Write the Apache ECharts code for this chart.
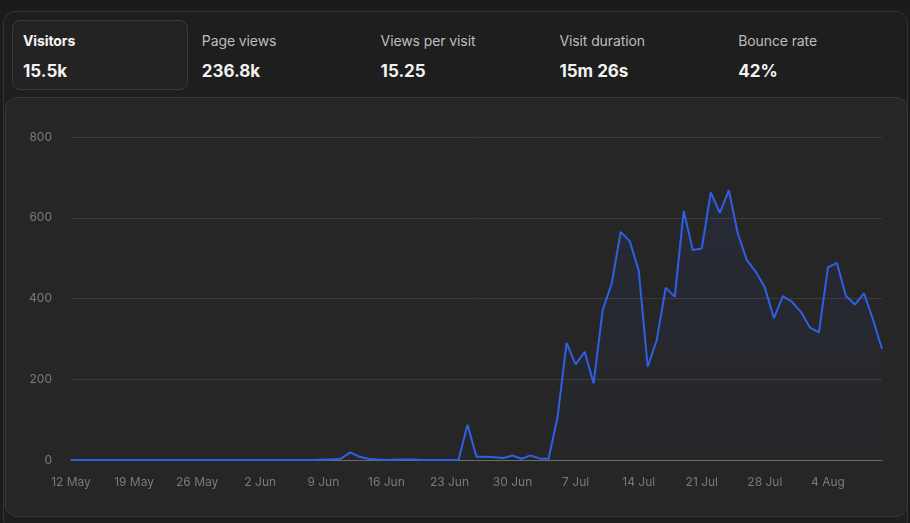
<!DOCTYPE html>
<html>
<head>
<meta charset="utf-8">
<script src="https://cdn.jsdelivr.net/npm/echarts@6/dist/echarts.min.js"></script>
<style>
  html, body { margin:0; padding:0; width:910px; height:523px; background:#1b1b1b; overflow:hidden; font-family: Inter, "Noto Sans", sans-serif; }
  #outer { position:absolute; left:3px; top:11px; width:903px; height:520px; border:1px solid #333; border-radius:12px; background:#1e1e1e; }
  #tab { position:absolute; left:12px; top:20px; width:174px; height:68px; border:1px solid #3a3a3a; border-radius:8px; background:#232323; }
  .stat { position:absolute; top:32px; }
  .stat .lbl { font-size:14px; color:#bdbdbd; line-height:18px; letter-spacing:-0.1px; }
  .stat .val { font-size:17px; font-weight:700; color:#f2f2f2; margin-top:11px; line-height:20px; }
  .stat.sel .lbl { color:#f5f5f5; font-weight:700; }
  #card { position:absolute; left:5px; top:97px; width:901px; height:418px; border:1px solid #383838; border-radius:12px; background:#262626; }
  #chart { position:absolute; left:0; top:0; width:910px; height:523px; }
</style>
</head>
<body>
<div id="outer"></div>
<div id="tab"></div>
<div id="stats"></div>
<div id="card"></div>
<div id="chart"></div>
<script>
// ---- data ----
const statLabels = ["Visitors", "Page views", "Views per visit", "Visit duration", "Bounce rate"];
const statValues = ["15.5k", "236.8k", "15.25", "15m 26s", "42%"];

const startDate = "2024-05-12";
const dayCount = 91;
const monthNames = ["Jan","Feb","Mar","Apr","May","Jun","Jul","Aug","Sep","Oct","Nov","Dec"];

const visitors = [
  0, 0, 0, 0, 0, 0, 0, 0, 0, 0,
  0, 0, 0, 0, 0, 0, 0, 0, 0, 0,
  0, 0, 0, 0, 0, 0, 0, 0, 1, 1,
  4, 19, 8, 3, 1, 0, 1, 1, 1, 0,
  0, 0, 0, 0, 87, 8, 8, 7, 5, 11,
  3, 11, 4, 3, 107, 290, 237, 268, 190, 371,
  437, 565, 542, 470, 231, 297, 427, 404, 617, 520,
  524, 663, 612, 668, 561, 495, 466, 427, 351, 406,
  392, 367, 328, 316, 477, 488, 406, 385, 413, 348,
  275
];
const yTicks = { min: 0, max: 800, interval: 200 };

// ---- categories ----
const categories = [];
{
  const d0 = new Date(startDate + "T00:00:00Z");
  for (let i = 0; i < dayCount; i++) {
    const d = new Date(d0.getTime() + i * 86400000);
    categories.push(d.getUTCDate() + " " + monthNames[d.getUTCMonth()]);
  }
}

// ---- header ----
const stats = document.getElementById("stats");
statLabels.forEach((l, i) => {
  const el = document.createElement("div");
  el.className = "stat" + (i === 0 ? " sel" : "");
  el.style.left = (23 + i * 178.8) + "px";
  el.innerHTML = '<div class="lbl">' + l + '</div><div class="val">' + statValues[i] + '</div>';
  stats.appendChild(el);
});

// ---- chart ----
const chart = echarts.init(document.getElementById("chart"), null, { renderer: "canvas" });
chart.setOption({
  backgroundColor: "transparent",
  animation: false,
  grid: { left: 71, right: 28, top: 137, bottom: 63, containLabel: false },
  xAxis: {
    type: "category",
    data: categories,
    boundaryGap: false,
    axisLine: { show: true, lineStyle: { color: "#6b6b6b", width: 1 } },
    axisTick: { show: false },
    axisLabel: { interval: 6, color: "#7a7a7a", fontSize: 12, margin: 16, fontFamily: "Inter, 'Noto Sans', sans-serif" },
    splitLine: { show: false }
  },
  yAxis: {
    type: "value",
    min: yTicks.min, max: yTicks.max, interval: yTicks.interval,
    axisLine: { show: false },
    axisTick: { show: false },
    axisLabel: { color: "#7a7a7a", fontSize: 12, margin: 19, fontFamily: "Inter, 'Noto Sans', sans-serif" },
    splitLine: { lineStyle: { color: "#3b3b3b", width: 1 } }
  },
  series: [{
    type: "line",
    data: visitors,
    symbol: "none",
    smooth: false,
    lineStyle: { color: "#2f5fe6", width: 2 },
    areaStyle: {
      color: new echarts.graphic.LinearGradient(0, 0, 0, 1, [
        { offset: 0, color: "rgba(47,95,230,0.13)" },
        { offset: 1, color: "rgba(47,95,230,0.02)" }
      ])
    }
  }]
});
</script>
</body>
</html>
